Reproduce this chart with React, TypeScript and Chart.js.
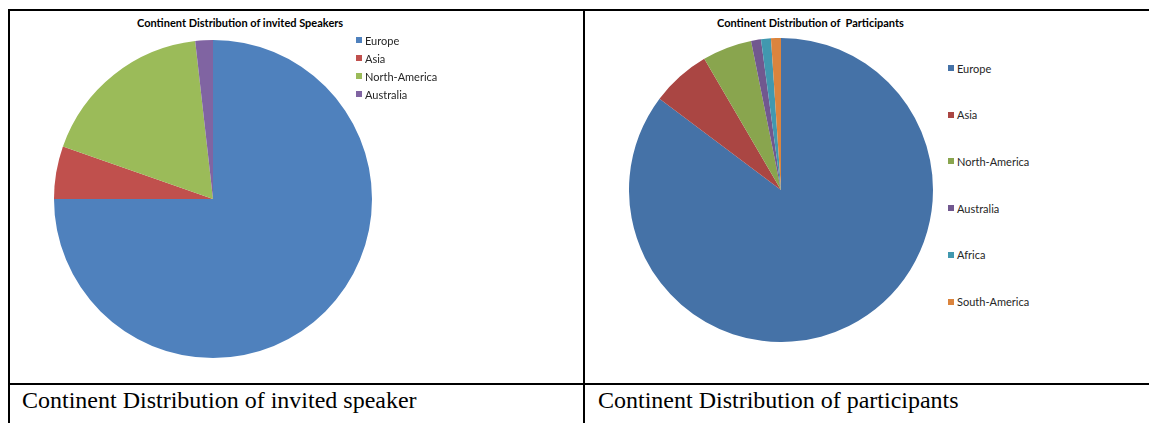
import React, { useEffect, useRef } from 'react';
import { Chart, registerables } from 'chart.js';
Chart.register(...registerables);

const speakerTitle = 'Continent Distribution of invited Speakers';
const speakerLabels = ['Europe', 'Asia', 'North-America', 'Australia'];
const speakerValues = [42, 3, 10, 1];
const speakerColors = ['#4F81BD', '#C0504D', '#9BBB59', '#8064A2'];

const participantTitle = 'Continent Distribution of  Participants';
const participantLabels = ['Europe', 'Asia', 'North-America', 'Australia', 'Africa', 'South-America'];
const participantValues = [81, 6, 5, 1, 1, 1];
const participantColors = ['#4572A7', '#AA4643', '#89A54E', '#71588F', '#4198AF', '#DB843D'];

const captionLeft = 'Continent Distribution of invited speaker';
const captionRight = 'Continent Distribution of participants';

type PieProps = { labels: string[]; values: number[]; colors: string[]; left: number; top: number; size: number };

function Pie({ labels, values, colors, left, top, size }: PieProps) {
  const ref = useRef<HTMLCanvasElement | null>(null);
  useEffect(() => {
    if (!ref.current) return;
    const chart = new Chart(ref.current, {
      type: 'pie',
      data: { labels, datasets: [{ data: values, backgroundColor: colors, borderWidth: 0, hoverOffset: 0 }] },
      options: {
        animation: false,
        responsive: false,
        layout: { padding: 0 },
        plugins: { legend: { display: false }, title: { display: false }, tooltip: { enabled: false } },
      },
    });
    return () => chart.destroy();
  }, []);
  return (
    <canvas
      ref={ref}
      width={size}
      height={size}
      style={{ position: 'absolute', left, top, width: size, height: size }}
    />
  );
}

type LegendProps = { labels: string[]; colors: string[]; left: number; top: number; step: number };

function Legend({ labels, colors, left, top, step }: LegendProps) {
  return (
    <>
      {labels.map((l, i) => (
        <div
          key={l}
          style={{
            position: 'absolute',
            left,
            top: top + i * step - 7,
            height: 14,
            display: 'flex',
            alignItems: 'center',
            fontFamily: 'Lato, sans-serif',
            fontSize: 11,
            color: '#262626',
            whiteSpace: 'nowrap',
          }}
        >
          <span style={{ display: 'inline-block', width: 6, height: 6, background: colors[i], marginRight: 3 }} />
          {l}
        </div>
      ))}
    </>
  );
}

const line = (left: number, top: number, width: number, height: number) => (
  <div style={{ position: 'absolute', left, top, width, height, background: '#000' }} />
);

export default function App() {
  const titleStyle: React.CSSProperties = {
    position: 'absolute',
    top: 16,
    fontFamily: 'Lato, sans-serif',
    fontWeight: 700,
    fontSize: 11,
    color: '#000',
    whiteSpace: 'pre',
    lineHeight: '14px',
  };
  const capStyle: React.CSSProperties = {
    position: 'absolute',
    top: 386,
    fontFamily: '"Liberation Serif", "Times New Roman", serif',
    fontSize: 24,
    color: '#000',
    whiteSpace: 'pre',
    lineHeight: '28px',
  };
  return (
    <div style={{ position: 'absolute', left: 0, top: 0, width: 1149, height: 423, overflow: 'hidden', background: '#fff' }}>
      {line(8, 9, 1141, 2)}
      {line(8, 9, 2, 414)}
      {line(583, 9, 2, 414)}
      {line(8, 383, 1141, 2)}

      <div style={{ ...titleStyle, left: 137 }}>{speakerTitle}</div>
      <Pie labels={speakerLabels} values={speakerValues} colors={speakerColors} left={54} top={40} size={318} />
      <Legend labels={speakerLabels} colors={speakerColors} left={356} top={40} step={18} />

      <div style={{ ...titleStyle, left: 717 }}>{participantTitle}</div>
      <Pie labels={participantLabels} values={participantValues} colors={participantColors} left={629} top={38} size={304} />
      <Legend labels={participantLabels} colors={participantColors} left={948} top={68} step={46.7} />

      <div style={{ ...capStyle, left: 22 }}>{captionLeft}</div>
      <div style={{ ...capStyle, left: 598 }}>{captionRight}</div>
    </div>
  );
}
